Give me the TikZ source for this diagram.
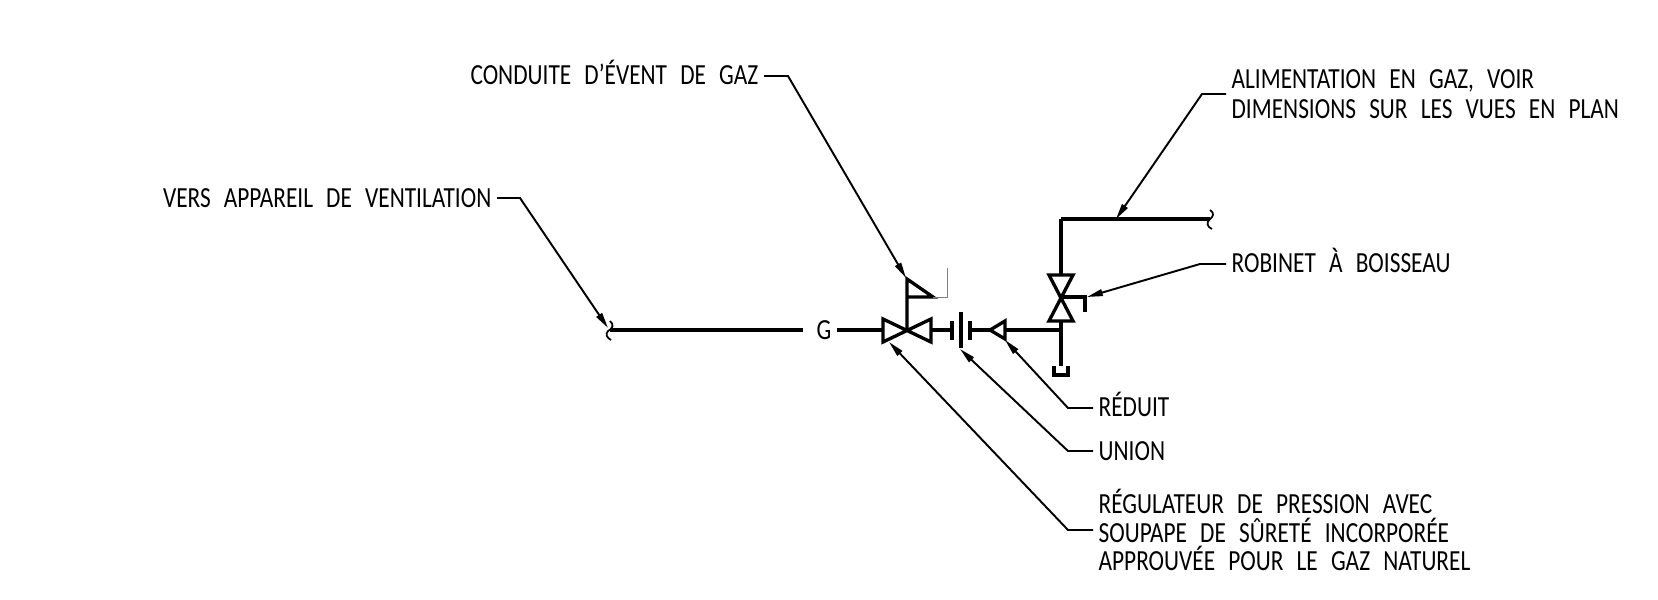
\documentclass[tikz,border=0pt]{standalone}
\usepackage{fontspec}
\setmainfont[FakeStretch=0.8,WordSpace=2.5]{Carlito}
\usetikzlibrary{arrows.meta}

\begin{document}
\begin{tikzpicture}[x=0.02cm,y=-0.02cm,
	pipe/.style={line width=1.9pt,line join=miter},
	leader/.style={line width=1.1pt,-{Triangle[length=9pt,width=3.8pt]}},
	label/.style={inner sep=3pt,font=\fontsize{16.6}{17}\selectfont,align=left},
	accented/.style={text depth=4pt}]
\useasboundingbox (0,0) rectangle (1658,599);
%labels
\path (764,76) node[label,accented,anchor=east] (conduite) {CONDUITE D’ÉVENT DE GAZ};
\path (497,198) node[label,anchor=east] (vers) {VERS APPAREIL DE VENTILATION};
\path (1226,94) node[label,anchor=west] (alimentation) {ALIMENTATION EN GAZ, VOIR\\DIMENSIONS SUR LES VUES EN PLAN};
\path (1226,264) node[label,accented,anchor=west] (robinet) {ROBINET À BOISSEAU};
\path (1093,408) node[label,accented,anchor=west] (reduit) {RÉDUIT};
\path (1093,451) node[label,anchor=west] (union) {UNION};
\path (1093,530) node[label,font=\fontsize{16.6}{16}\selectfont,anchor=west] (regulateur) {RÉGULATEUR DE PRESSION AVEC\\SOUPAPE DE SÛRETÉ INCORPORÉE\\APPROUVÉE POUR LE GAZ NATUREL};
\path (824,330) node[label] (gaz) {G};
%gas line
\coordinate (ventend) at (610,330);
\coordinate (regulator) at (907,330);
\coordinate (tee) at (1061,330);
\coordinate (cock) at (1061,297);
\coordinate (corner) at (1061,219);
\coordinate (feedend) at (1210,219);
\draw[pipe] (ventend) -- (803,330);
\draw[pipe] (gaz.east) -- (883,330);
\draw[pipe] (corner) -- (feedend);
\draw[pipe] (cock |- 0,275) -- (corner);
\draw[pipe] (1005,330) -- (tee);
\draw[pipe] (cock |- 0,321) -- (tee) -- (1061,366);
\draw[pipe] (930,330) -- (952,330);
\draw[pipe] (970,330) -- (990,330);
%breaks
\draw[line width=1pt] (610,321) .. controls (615,325) and (612,329) .. (608,331) .. controls (605,334) and (607,338) .. (611,340);
\draw[line width=1pt] (1210,210) .. controls (1215,213) and (1213,217) .. (1210,219) .. controls (1206,222) and (1207,227) .. (1212,229);
%regulator
\draw[pipe] (883,319) -- (883,342) -- (931,319) -- (931,342) -- cycle;
\draw[pipe] (regulator) -- (907,279) -- (933,297) -- (907,297);
\draw[line width=0.5pt,gray] (933,297) -- (947,297) -- (947,268);
%union
\draw[pipe] (952,321) -- (952,340);
\draw[pipe] (961,312) -- (961,348);
\draw[pipe] (970,321) -- (970,340);
%reducer
\draw[pipe] (990,330) -- (1005,321) -- (1005,339) -- cycle;
%cock
\draw[pipe] (1049,275) -- (1073,275) -- (1049,321) -- (1073,321) -- cycle;
\draw[pipe] (cock) -- (1085,297) -- (1085,312);
%cap
\draw[pipe] (1054,366) -- (1054,375) -- (1068,375) -- (1068,366);
%leaders
\draw[leader] (conduite.east) -- (788,76) -- (906,278);
\draw[leader] (vers.east) -- (520,198) -- (608,328);
\draw[leader] (alimentation.west) -- (1202,94) -- (1116,219);
\draw[leader] (robinet.west) -- (1200,264) -- (1087,297);
\draw[leader] (reduit.west) -- (1068,408) -- (1005,340);
\draw[leader] (union.west) -- (1068,451) -- (960,349);
\draw[leader] (regulateur.west) -- (1068,530) -- (889,342);
\end{tikzpicture}
\end{document}
